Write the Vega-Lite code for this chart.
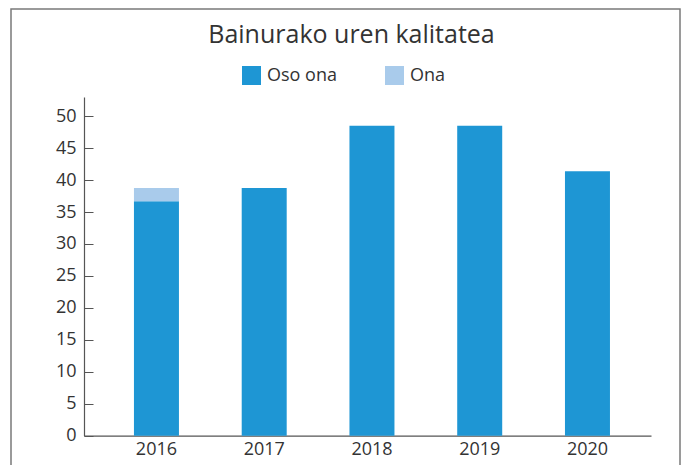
{
  "$schema": "https://vega.github.io/schema/vega-lite/v6.json",
  "autosize": "none",
  "width": 669,
  "height": 466,
  "padding": {"left": 11, "top": 9, "right": 6, "bottom": 0},
  "background": "white",
  "config": {
    "view": {"stroke": "#7a7a7a", "strokeWidth": 1.5},
    "font": "Open Sans"
  },
  "title": {
    "text": "Bainurako uren kalitatea",
    "fontSize": 25,
    "fontWeight": "normal",
    "color": "#333333",
    "anchor": "middle",
    "frame": "group",
    "offset": -59,
    "baseline": "alphabetic",
    "dx": 6
  },
  "data": {
    "values": [
      {"year": "2016", "cat": "Oso ona", "value": 36.7},
      {"year": "2016", "cat": "Ona", "value": 2.05},
      {"year": "2017", "cat": "Oso ona", "value": 38.75},
      {"year": "2018", "cat": "Oso ona", "value": 48.5},
      {"year": "2019", "cat": "Oso ona", "value": 48.5},
      {"year": "2020", "cat": "Oso ona", "value": 41.4}
    ]
  },
  "mark": {"type": "bar"},
  "encoding": {
    "x": {
      "field": "year",
      "type": "nominal",
      "scale": {"range": [73, 640], "paddingInner": 0.5824, "paddingOuter": 0.4222, "align": 0.549},
      "axis": {
        "title": null,
        "labelAngle": 0,
        "ticks": false,
        "tickSize": 0,
        "labelPadding": 5,
        "labelFontSize": 18,
        "labelColor": "#333333",
        "domainColor": "#555555",
        "domainWidth": 1.2,
        "offset": -39.3
      }
    },
    "y": {
      "field": "value",
      "type": "quantitative",
      "stack": "zero",
      "scale": {"domain": [0, 53], "range": [426.7, 88], "nice": false},
      "axis": {
        "title": null,
        "values": [0, 5, 10, 15, 20, 25, 30, 35, 40, 45, 50],
        "grid": false,
        "offset": -73,
        "tickSize": -9,
        "tickColor": "#555555",
        "domainColor": "#555555",
        "domainWidth": 1.2,
        "labelPadding": 17,
        "labelFontSize": 18,
        "labelColor": "#333333"
      }
    },
    "color": {
      "field": "cat",
      "type": "nominal",
      "sort": ["Oso ona", "Ona"],
      "scale": {"domain": ["Oso ona", "Ona"], "range": ["#1e96d4", "#a9cbeb"]},
      "legend": {
        "orient": "none",
        "legendX": 231,
        "legendY": 57,
        "direction": "horizontal",
        "title": null,
        "symbolType": "square",
        "symbolSize": 361,
        "symbolStrokeWidth": 0,
        "symbolOpacity": 1,
        "labelFontSize": 18,
        "labelOffset": 6,
        "columnPadding": 48,
        "labelColor": "#333333",
        "padding": 0
      }
    }
  }
}
